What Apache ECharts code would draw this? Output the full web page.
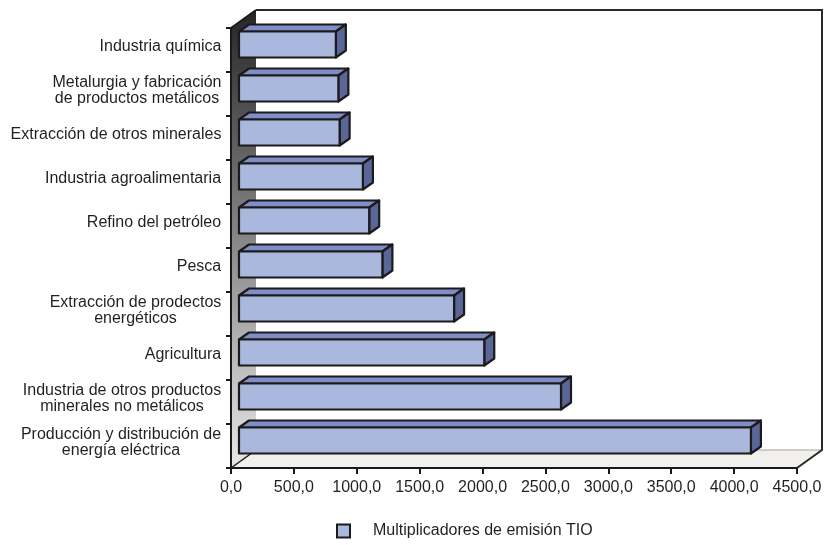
<!DOCTYPE html>
<html>
<head>
<meta charset="utf-8">
<script src="https://cdn.jsdelivr.net/npm/echarts@6/dist/echarts.min.js"></script>
<style>
  html, body { margin: 0; padding: 0; background: #ffffff; }
  #chart { width: 825px; height: 545px; }
</style>
</head>
<body>
<div id="chart"></div>
<script>
// Sectors, top to bottom
const categories = [
  'Industria química',
  'Metalurgia y fabricación\nde productos metálicos',
  'Extracción de otros minerales',
  'Industria agroalimentaria',
  'Refino del petróleo',
  'Pesca',
  'Extracción de prodectos\nenergéticos',
  'Agricultura',
  'Industria de otros productos\nminerales no metálicos',
  'Producción y distribución de\nenergía eléctrica'
];
// Emission multipliers per sector
const values = [770, 790, 800, 985, 1035, 1140, 1710, 1950, 2560, 4070];
const seriesName = 'Multiplicadores de emisión TIO';
// Value axis range and tick step
const axisMin = 0;
const axisMax = 4500;
const axisStep = 500;

// Pseudo-3D geometry (pixels)
const WALL_DEPTH = [25, -18];
const BAR_SHIFT = [8, -5.5];
const BAR_DEPTH = [10, -7];
const BAR_RATIO = 0.59;

const FONT = '"Liberation Sans", Arial, sans-serif';
const FONT_SIZE = 16;
const TEXT_COLOR = '#231f20';

// Multi-line labels are centred line by line inside a right-aligned block
const measureCtx = document.createElement('canvas').getContext('2d');
measureCtx.font = FONT_SIZE + 'px ' + FONT;
const labelRich = {};
categories.forEach(function (c, i) {
  const lines = c.split('\n');
  const w = Math.max.apply(null, lines.map(function (l) { return measureCtx.measureText(l).width; }));
  labelRich['L' + i] = {
    width: Math.ceil(w) + 1,
    align: 'center',
    fontSize: FONT_SIZE,
    fontFamily: FONT,
    color: TEXT_COLOR,
    lineHeight: 16
  };
});

function renderFrame(params, api) {
  const n = categories.length;
  const band = api.size([0, 1])[1];
  const x0 = api.coord([axisMin, 0])[0];
  const x1 = api.coord([axisMax, 0])[0];
  const yTop = api.coord([axisMin, 0])[1] - band / 2;
  const yBot = api.coord([axisMin, n - 1])[1] + band / 2;
  const dx = WALL_DEPTH[0], dy = WALL_DEPTH[1];
  return {
    type: 'group',
    children: [
      { // floor
        type: 'polygon',
        shape: { points: [[x0, yBot], [x0 + dx, yBot + dy], [x1 + dx, yBot + dy], [x1, yBot]] },
        style: { fill: '#f1f0ec', stroke: null }
      },
      { // left wall
        type: 'polygon',
        shape: { points: [[x0, yTop], [x0 + dx, yTop + dy], [x0 + dx, yBot + dy], [x0, yBot]] },
        style: {
          fill: new echarts.graphic.LinearGradient(0, 0, 0, 1, [
            { offset: 0, color: '#262626' },
            { offset: 1, color: '#e8e8e8' }
          ]),
          stroke: null
        }
      },
      { // floor back edge
        type: 'polyline',
        shape: { points: [[x0 + dx, yBot + dy], [x1 + dx, yBot + dy]] },
        style: { stroke: '#a0a0a0', lineWidth: 1, fill: null }
      },
      { // back wall outline and floor right edge
        type: 'polyline',
        shape: { points: [[x0 + dx, yTop + dy], [x1 + dx, yTop + dy], [x1 + dx, yBot + dy], [x1, yBot]] },
        style: { stroke: '#2a2a2a', lineWidth: 2, fill: null }
      },
      { // wall top edge
        type: 'polyline',
        shape: { points: [[x0, yTop], [x0 + dx, yTop + dy]] },
        style: { stroke: '#1a1a1a', lineWidth: 2, fill: null }
      },
      { // floor left edge
        type: 'polyline',
        shape: { points: [[x0, yBot], [x0 + dx, yBot + dy]] },
        style: { stroke: '#1a1a1a', lineWidth: 1.5, fill: null }
      }
    ]
  };
}

function renderBar(params, api) {
  const v = api.value(0);
  const idx = api.value(1);
  const c0 = api.coord([axisMin, idx]);
  const c1 = api.coord([v, idx]);
  const band = api.size([0, 1])[1];
  const h = band * BAR_RATIO;
  const xl = c0[0] + BAR_SHIFT[0];
  const xr = c1[0] + BAR_SHIFT[0];
  const yc = c0[1] + BAR_SHIFT[1];
  const yt = yc - h / 2;
  const yb = yc + h / 2;
  const dx = BAR_DEPTH[0], dy = BAR_DEPTH[1];
  const edge = { stroke: '#1c1a1c', lineWidth: 2.2, lineJoin: 'round' };
  return {
    type: 'group',
    children: [
      { // top face
        type: 'polygon',
        shape: { points: [[xl, yt], [xr, yt], [xr + dx, yt + dy], [xl + dx, yt + dy]] },
        style: Object.assign({ fill: '#808ec7' }, edge)
      },
      { // end face
        type: 'polygon',
        shape: { points: [[xr, yt], [xr + dx, yt + dy], [xr + dx, yb + dy], [xr, yb]] },
        style: Object.assign({ fill: '#5b6698' }, edge)
      },
      { // front face
        type: 'polygon',
        shape: { points: [[xl, yt], [xr, yt], [xr, yb], [xl, yb]] },
        style: Object.assign({ fill: '#aab8de' }, edge)
      }
    ]
  };
}

const chart = echarts.init(document.getElementById('chart'), null, { renderer: 'canvas' });
chart.setOption({
  animation: false,
  backgroundColor: '#ffffff',
  grid: { left: 231, right: 28, top: 28, bottom: 77, containLabel: false },
  legend: {
    data: [{ name: seriesName, icon: 'rect' }],
    left: 331,
    top: 518,
    itemWidth: 13,
    itemHeight: 13,
    itemStyle: { color: '#aab8de', borderColor: '#1c1a1c', borderWidth: 2 },
    textStyle: { fontSize: FONT_SIZE, fontFamily: FONT, color: TEXT_COLOR, padding: [0, 0, 0, 18] },
    selectedMode: false
  },
  xAxis: {
    type: 'value',
    min: axisMin,
    max: axisMax,
    interval: axisStep,
    z: 5,
    axisLine: { show: true, lineStyle: { color: '#1a1a1a', width: 2 } },
    axisTick: { show: true, length: 6, lineStyle: { color: '#1a1a1a', width: 2 } },
    splitLine: { show: false },
    axisLabel: {
      margin: 12,
      fontSize: FONT_SIZE,
      fontFamily: FONT,
      color: TEXT_COLOR,
      formatter: function (v) { return v.toFixed(1).replace('.', ','); }
    }
  },
  yAxis: {
    type: 'category',
    data: categories,
    inverse: true,
    z: 5,
    axisLine: { show: true, lineStyle: { color: '#1a1a1a', width: 2 } },
    axisTick: { show: true, length: 5, lineStyle: { color: '#1a1a1a', width: 2 } },
    splitLine: { show: false },
    axisLabel: {
      margin: 9,
      align: 'right',
      fontSize: FONT_SIZE,
      fontFamily: FONT,
      color: TEXT_COLOR,
      lineHeight: 16,
      padding: [0, 0, 6, 0],
      rich: labelRich,
      formatter: function (value, index) {
        return value.split('\n').map(function (l) { return '{L' + index + '|' + l + '}'; }).join('\n');
      }
    }
  },
  series: [
    {
      type: 'custom',
      name: 'frame',
      z: 1,
      clip: false,
      silent: true,
      renderItem: renderFrame,
      data: [[axisMin, 0]],
      encode: { x: 0, y: 1 }
    },
    {
      type: 'custom',
      name: seriesName,
      z: 2,
      clip: false,
      renderItem: renderBar,
      itemStyle: { color: '#aab8de', borderColor: '#1c1a1c', borderWidth: 2 },
      data: values.map(function (v, i) { return [v, i]; }),
      encode: { x: 0, y: 1 }
    }
  ]
});
</script>
</body>
</html>
